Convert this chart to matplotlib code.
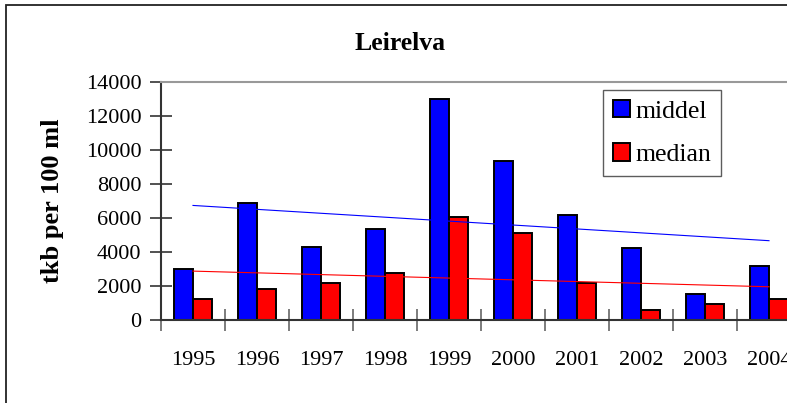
import numpy as np
import matplotlib
matplotlib.use("Agg")
import matplotlib.pyplot as plt
from matplotlib.patches import Rectangle

years = ["1995", "1996", "1997", "1998", "1999", "2000", "2001", "2002", "2003", "2004"]
middel = [3000, 6900, 4310, 5370, 13000, 9370, 6200, 4210, 1510, 3150]
median = [1240, 1820, 2180, 2770, 6060, 5140, 2200, 570, 920, 1250]
yticks = [0, 2000, 4000, 6000, 8000, 10000, 12000, 14000]

plt.rcParams['font.family'] = ['Liberation Serif', 'DejaVu Serif']

W, H = 787, 403
fig = plt.figure(figsize=(W / 100, H / 100), dpi=100)

# figure border (right and bottom cut off in reference)
fig.patches.append(Rectangle((6 / W, -0.1), 1.2, (H - 5) / H + 0.1, transform=fig.transFigure,
                             fill=False, edgecolor='#222222', linewidth=1.3, clip_on=False))

ax = fig.add_axes([161 / W, (H - 320) / H, 640 / W, 238 / H])
x = np.arange(len(years))
w = 0.3
ax.bar(x - w / 2, middel, width=w, color='#0000FF', edgecolor='black', linewidth=1.4, label='middel', zorder=2)
ax.bar(x + w / 2, median, width=w, color='#FF0000', edgecolor='black', linewidth=1.4, label='median', zorder=2)

# linear trend lines
pm = np.polyfit(x, middel, 1)
pd_ = np.polyfit(x, median, 1)
ax.plot(x, np.polyval(pm, x), color='#0000FF', linewidth=0.8, zorder=3)
ax.plot(x, np.polyval(pd_, x), color='#FF0000', linewidth=0.8, zorder=3)

ax.set_xlim(-0.5, len(years) - 0.5)
ax.set_ylim(0, 14000)
ax.set_yticks(yticks)
ax.set_yticklabels([str(v) for v in yticks], fontsize=16)
ax.set_xticks(np.arange(-0.5, len(years), 1.0))
ax.set_xticklabels([])
ax.set_xticks(x, minor=True)
ax.set_xticklabels(years, minor=True, fontsize=16)
ax.tick_params(axis='x', which='major', direction='inout', length=16, width=1.2, color='#666666')
ax.tick_params(axis='x', which='minor', length=0, pad=22)
ax.tick_params(axis='y', direction='inout', length=16, width=1.2, color='#333333', pad=6)

ax.spines['right'].set_visible(False)
ax.spines['top'].set_color('#999999')
ax.spines['top'].set_linewidth(1.5)
ax.spines['left'].set_color('#333333')
ax.spines['left'].set_linewidth(1.5)
ax.spines['bottom'].set_color('#333333')
ax.spines['bottom'].set_linewidth(1.5)

ax.set_ylabel('tkb per 100 ml', fontsize=19, fontweight='bold', labelpad=16)
fig.text(400 / W, 1 - 43 / H, 'Leirelva', fontsize=18.5, fontweight='bold', ha='center', va='center')

leg = ax.legend(loc='upper left', bbox_to_anchor=((603 - 161) / 640, (320 - 90) / 238),
                fontsize=18.5, frameon=True, fancybox=False, handlelength=0.65, handleheight=0.65,
                handletextpad=0.2, labelspacing=0.8, borderpad=0.4, borderaxespad=0)
leg.get_frame().set_edgecolor('#333333')
leg.get_frame().set_linewidth(1.0)

fig.savefig('out.png', dpi=100)
